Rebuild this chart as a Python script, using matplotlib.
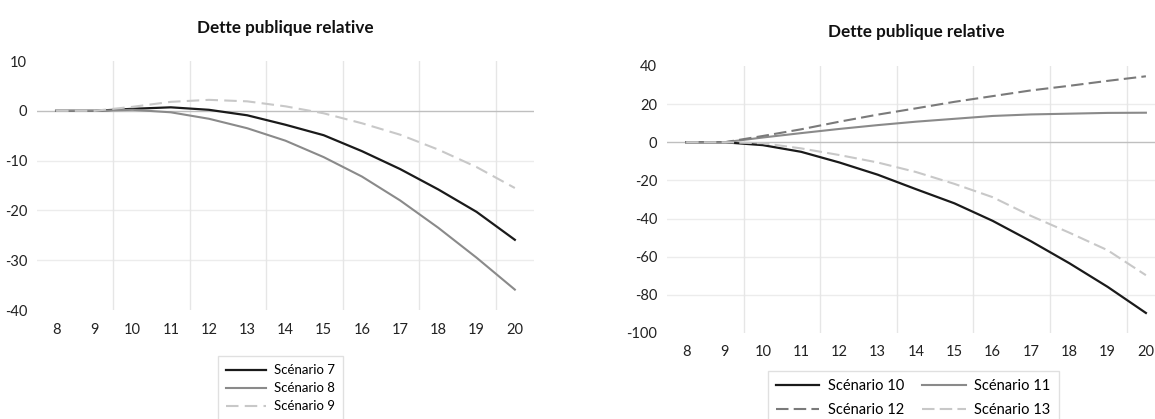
import matplotlib.pyplot as plt
import numpy as np

plt.rcParams['font.family'] = ['Lato', 'DejaVu Sans']

years = [8, 9, 10, 11, 12, 13, 14, 15, 16, 17, 18, 19, 20]

# panneau gauche
scen7 = [0, 0, 0.4, 0.7, 0.2, -0.9, -2.8, -4.9, -8.1, -11.7, -15.8, -20.3, -25.9]
scen8 = [0, 0, 0.2, -0.3, -1.6, -3.5, -6.0, -9.3, -13.2, -18.0, -23.5, -29.5, -35.9]
scen9 = [0, 0, 0.8, 1.8, 2.2, 1.9, 0.9, -0.5, -2.5, -4.8, -7.8, -11.3, -15.5]

# panneau droit
scen10 = [0, 0, -1.5, -5.0, -10.6, -17.0, -24.6, -32.0, -41.2, -51.9, -63.4, -75.8, -89.5]
scen11 = [0, 0, 2.5, 4.8, 7.0, 9.0, 10.8, 12.3, 13.8, 14.6, 15.0, 15.4, 15.5]
scen12 = [0, 0, 3.3, 6.8, 10.8, 14.5, 17.8, 21.2, 24.2, 27.2, 29.6, 32.2, 34.6]
scen13 = [0, 0, -0.5, -3.2, -6.7, -10.6, -15.6, -21.8, -28.8, -38.6, -47.4, -56.6, -69.7]

title = 'Dette publique relative'

BLACK = '#1a1a1a'
GRAY = '#8a8a8a'
DGRAY = '#7a7a7a'
LIGHT = '#c8c8c8'


def style_axes(ax, ymin, ymax, ystep, title_pad):
    x = np.arange(len(years))
    ax.set_xlim(-0.5, len(years) - 0.5)
    ax.set_ylim(ymin, ymax)
    ax.set_xticks(x)
    ax.set_xticklabels([str(y) for y in years])
    yt = np.arange(ymin, ymax + ystep / 2, ystep)
    ax.set_yticks(yt)
    ax.set_yticklabels([f'{int(v)}' for v in yt])
    for v in yt[1:-1]:
        if v == 0:
            ax.axhline(0, color='#bfbfbf', lw=1.0, zorder=1)
        else:
            ax.axhline(v, color='#ececec', lw=1.0, zorder=0)
    for xv in np.arange(1.5, len(years) - 1, 2):
        ax.axvline(xv, color='#e6e6e6', lw=1.0, zorder=0)
    for s in ax.spines.values():
        s.set_visible(False)
    ax.tick_params(length=0, labelsize=10.5, colors='#222222')
    ax.tick_params(axis='x', pad=9)
    ax.tick_params(axis='y', pad=7)
    ax.set_title(title, fontsize=12.3, fontweight='bold', pad=title_pad, color='#111111')


fig = plt.figure(figsize=(11.55, 4.19), dpi=100)

ax1 = fig.add_axes([0.032, 0.2601, 0.4303, 0.5943])
x = np.arange(len(years))
ax1.plot(x, scen7, color=BLACK, lw=1.6, label='Scénario 7', zorder=3)
ax1.plot(x, scen8, color=GRAY, lw=1.5, label='Scénario 8', zorder=3)
ax1.plot(x, scen9, color=LIGHT, lw=1.5, dashes=(6, 3), label='Scénario 9', zorder=3)
style_axes(ax1, -40, 10, 10, 20)
ax1.legend(loc='upper center', bbox_to_anchor=(0.49, -0.16), frameon=True,
           fancybox=False, edgecolor='#d9d9d9', fontsize=9.5, handlelength=3.0,
           labelspacing=0.45, borderpad=0.6, handletextpad=0.6)

ax2 = fig.add_axes([0.5775, 0.2053, 0.4312, 0.6372])
l10, = ax2.plot(x, scen10, color=BLACK, lw=1.6, label='Scénario 10', zorder=3)
l11, = ax2.plot(x, scen11, color=GRAY, lw=1.5, label='Scénario 11', zorder=3)
l12, = ax2.plot(x, scen12, color=DGRAY, lw=1.5, dashes=(6, 2.5), label='Scénario 12', zorder=3)
l13, = ax2.plot(x, scen13, color=LIGHT, lw=1.5, dashes=(6, 2.5), label='Scénario 13', zorder=3)
style_axes(ax2, -100, 40, 20, 21)
# ordre ligne par ligne comme dans l'original
ax2.legend(handles=[l10, l12, l11, l13], loc='upper center',
           bbox_to_anchor=(0.494, -0.115), ncol=2, frameon=True,
           fancybox=False, edgecolor='#d9d9d9', fontsize=10.5, handlelength=3.0,
           labelspacing=0.7, borderpad=0.55, handletextpad=0.6, columnspacing=1.2)

fig.savefig('out.png', dpi=100)
